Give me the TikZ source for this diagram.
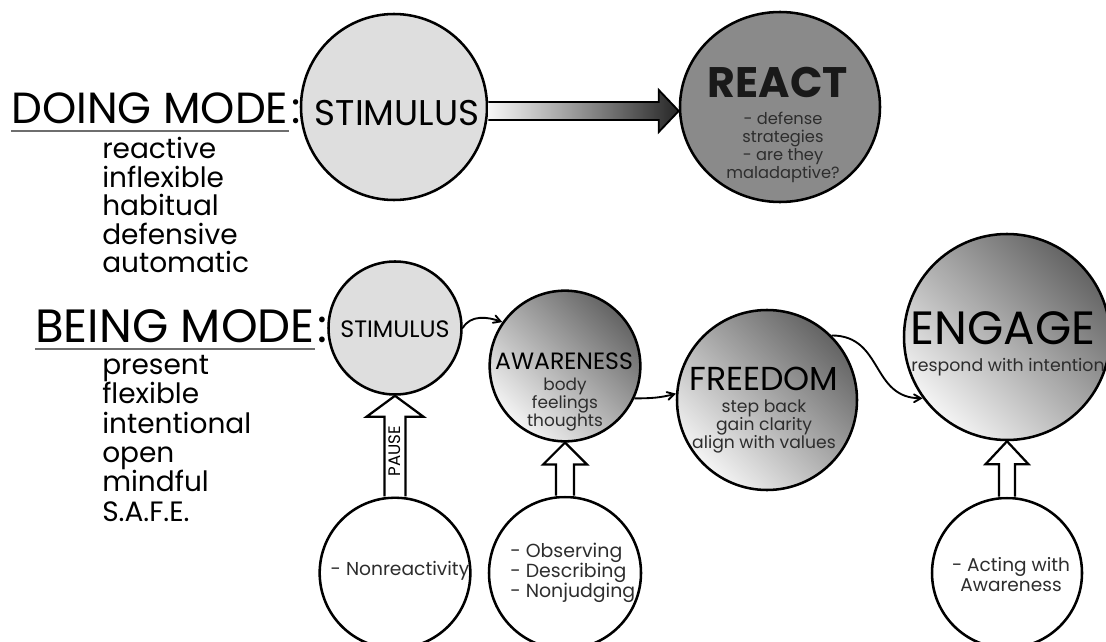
\documentclass[tikz,border=0pt]{standalone}
\usepackage{fontspec}
\setmainfont{Poppins}
\usetikzlibrary{positioning}
\usetikzlibrary{arrows}
\usetikzlibrary{calc}
\usetikzlibrary{shapes.geometric}
\definecolor{stimgray}{RGB}{222,222,222}
\definecolor{reactgray}{RGB}{138,138,138}
\definecolor{gradlight}{RGB}{244,244,244}
\definecolor{graddark}{RGB}{100,100,100}
\definecolor{textgray}{RGB}{45,45,45}
\definecolor{rulegray}{RGB}{110,110,110}
\tikzset{
mode_title/.style={anchor=base west, inner sep=0pt},
mode_rule/.style={line width=1.5pt, color=rulegray},
mode_list/.style={anchor=north west, inner sep=0pt, align=left},
stim_circle/.style={circle, draw, line width=1.9pt, fill=stimgray, inner sep=0pt},
react_circle/.style={ellipse, draw, line width=1.9pt, fill=reactgray, inner sep=0pt},
grad_circle/.style={circle, draw, line width=1.9pt, inner sep=0pt, top color=graddark, bottom color=gradlight, shading angle=-45},
sub_circle/.style={circle, draw, line width=1.9pt, fill=white, inner sep=0pt},
circle_title/.style={anchor=base, inner sep=0pt},
circle_text/.style={anchor=north, inner sep=0pt, align=center, text=textgray},
flow/.style={->, >=angle 60, line width=1.4pt},
fat_arrow/.style={draw, line width=1.4pt, left color=gray!6, right color=gray!30!black},
up_arrow/.style={draw, line width=1.7pt, fill=white}
}

\begin{document}
\begin{tikzpicture}[x=0.75pt, y=0.75pt]
\useasboundingbox (0,0) rectangle (1106,-642);

% doing mode
\node[mode_title, font=\fontsize{32.7}{38}\selectfont] (doing_title) at (11,-123) {DOING MODE};
\node[mode_title, font=\fontsize{32.7}{38}\selectfont] (doing_colon) [right=2pt of doing_title.base east, anchor=base west] {:};
\draw[mode_rule] ($(doing_title.base west)+(0,-8)$) -- ($(doing_title.base east)+(0,-8)$);
\node[mode_list, font=\fontsize{21}{21.4}\selectfont] (doing_list) at (102,-137) {reactive\\inflexible\\habitual\\defensive\\automatic};

\node[stim_circle, minimum size=139.5pt] (stim_doing) at (394,-107) {};
\node[react_circle, minimum width=150pt, minimum height=142.5pt] (react_doing) at (780,-107) {};
\node[circle_title, font=\fontsize{26.8}{30}\selectfont] (stim_doing_txt) at ($(stim_doing)+(3,-18)$) {STIMULUS};
\node[circle_title, font=\fontsize{32}{36}\selectfont\bfseries, text=black!90] (react_txt) at ($(react_doing)+(-2,9)$) {REACT};
\node[circle_text, font=\fontsize{12.2}{13.5}\selectfont] (react_sub) at ($(react_doing)+(3,-5)$) {- defense\\strategies\\- are they\\maladaptive?};

\draw[fat_arrow] ($(stim_doing.east)+(0,5)$) -- ($(react_doing.west)+(-20,5)$) -- ($(react_doing.west)+(-20,17)$) -- ($(react_doing.west)+(0,-4)$) -- ($(react_doing.west)+(-20,-25)$) -- ($(react_doing.west)+(-20,-13)$) -- ($(stim_doing.east)+(0,-13)$);

% being mode
\node[mode_title, font=\fontsize{35}{40}\selectfont] (being_title) at (35,-342) {BEING MODE};
\node[mode_title, font=\fontsize{35}{40}\selectfont] (being_colon) [right=2pt of being_title.base east, anchor=base west] {:};
\draw[mode_rule] ($(being_title.base west)+(0,-7)$) -- ($(being_title.base east)+(0,-7)$);
\node[mode_list, font=\fontsize{21}{22}\selectfont] (being_list) at (102,-355) {present\\flexible\\intentional\\open\\mindful\\S.A.F.E.};

\node[stim_circle, minimum size=99.75pt] (stim_being) at (395,-328) {};
\node[grad_circle, minimum size=113pt] (awareness) at (565,-366) {};
\node[grad_circle, minimum size=135pt] (freedom) at (767,-400) {};
\node[grad_circle, minimum size=154.5pt] (engage) at (1007,-337) {};
\node[sub_circle, minimum size=113pt] (nonreact) at (395,-573) {};
\node[sub_circle, minimum size=114pt] (observe) at (565,-573) {};
\node[sub_circle, minimum size=112.5pt] (acting) at (1007,-573) {};

\node[circle_title, font=\fontsize{17.8}{20}\selectfont] (stim_being_txt) at ($(stim_being)+(0,-9)$) {STIMULUS};
\node[circle_title, font=\fontsize{17.7}{20}\selectfont] (awareness_txt) at ($(awareness)+(-1,-3)$) {AWARENESS};
\node[circle_text, font=\fontsize{12.7}{13.5}\selectfont] (awareness_sub) at ($(awareness)+(0,-12)$) {body\\feelings\\thoughts};
\node[circle_title, font=\fontsize{24.9}{28}\selectfont] (freedom_txt) at ($(freedom)+(-3,10)$) {FREEDOM};
\node[circle_text, font=\fontsize{12.9}{13.5}\selectfont] (freedom_sub) at ($(freedom)+(-3,0)$) {step back\\gain clarity\\align with values};
\node[circle_title, font=\fontsize{35}{40}\selectfont] (engage_txt) at ($(engage)+(-4,-7)$) {ENGAGE};
\node[circle_title, font=\fontsize{13}{15}\selectfont, text=textgray] (engage_sub) at ($(engage)+(1,-34)$) {respond with intention};
\node[circle_title, font=\fontsize{14}{15}\selectfont, text=textgray] (nonreact_txt) at ($(nonreact)+(5,-2)$) {- Nonreactivity};
\node[circle_text, anchor=north west, align=left, font=\fontsize{14.2}{15}\selectfont] (observe_txt) at ($(observe)+(-55,30)$) {- Observing\\- Describing\\- Nonjudging};
\node[circle_text, font=\fontsize{13.9}{15}\selectfont] (acting_txt) at ($(acting)+(4,16)$) {- Acting with\\Awareness};

% connectors
\draw[flow] (stim_being.east) to[out=60, in=160] (awareness.145);
\draw[flow] (awareness.-25) to[out=0, in=195] (freedom.176);
\draw[flow] (freedom.45) to[out=0, in=180, looseness=1.2] (engage.216);

\draw[up_arrow] ($(nonreact.north)+(-10.5,0)$) -- ($(stim_being.south)+(-10.5,-21)$) -- ($(stim_being.south)+(-28.5,-21)$) -- (stim_being.south) -- ($(stim_being.south)+(28.5,-21)$) -- ($(stim_being.south)+(10.5,-21)$) -- ($(nonreact.north)+(10.5,0)$);
\node[rotate=90, inner sep=0pt, font=\fontsize{12.5}{14}\selectfont] (pause_txt) at ($(nonreact.north)!0.45!(stim_being.south)$) {PAUSE};
\draw[up_arrow] ($(observe.north)+(-9,0)$) -- ($(awareness.south)+(-9,-22)$) -- ($(awareness.south)+(-22,-22)$) -- (awareness.south) -- ($(awareness.south)+(22,-22)$) -- ($(awareness.south)+(9,-22)$) -- ($(observe.north)+(9,0)$);
\draw[up_arrow] ($(acting.north)+(-8,0)$) -- ($(engage.south)+(-8,-23)$) -- ($(engage.south)+(-21.5,-23)$) -- (engage.south) -- ($(engage.south)+(21.5,-23)$) -- ($(engage.south)+(8,-23)$) -- ($(acting.north)+(8,0)$);
\end{tikzpicture}
\end{document}
